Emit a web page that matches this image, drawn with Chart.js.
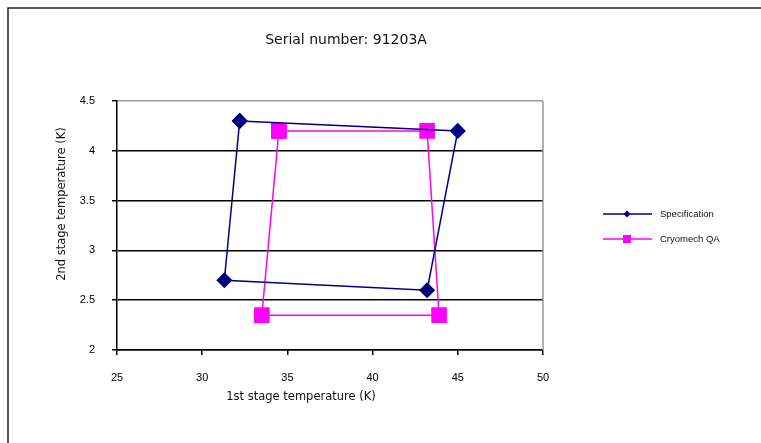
<!DOCTYPE html>
<html>
<head>
<meta charset="utf-8">
<script src="https://cdn.jsdelivr.net/npm/chart.js@4"></script>
<style>
  html, body { margin: 0; padding: 0; background: #fff; }
  #wrap { width: 761px; height: 443px; position: relative; }
</style>
</head>
<body>
<div id="wrap"><canvas id="tempChart"></canvas></div>
<script>
// data (closed loops: last point repeats the first)
const specX = [32.2, 45, 43.2, 31.3, 32.2];
const specY = [4.3, 4.2, 2.6, 2.7, 4.3];
const qaX = [34.5, 43.2, 43.9, 33.5, 34.5];
const qaY = [4.2, 4.2, 2.35, 2.35, 4.2];

const seriesNames = ["Specification", "Cryomech QA"];
const xTicks = [25, 30, 35, 40, 45, 50];
const yTicks = [2, 2.5, 3, 3.5, 4, 4.5];

const chartTitle = "Serial number: 91203A";
const xTitle = "1st stage temperature (K)";
const yTitle = "2nd stage temperature (K)";

const NAVY = "#000080";
const MAGENTA = "#ff00ff";

const toPoints = (xs, ys) => xs.map((x, i) => ({ x, y: ys[i] }));

/* ---------- text, legend and frame drawn on top ---------- */
const decor = {
  id: "decor",
  beforeDraw(chart) {
    const c = chart.ctx;
    c.save();
    c.fillStyle = "#fff";
    c.fillRect(0, 0, chart.width, chart.height);
    c.restore();
  },
  afterDraw(chart) {
    const c = chart.ctx;
    const a = chart.chartArea;
    c.save();

    // outer frame (only left and top edges are visible)
    c.strokeStyle = "#222";
    c.lineWidth = 1.5;
    c.strokeRect(8, 8, 900, 600);

    // plot area right edge
    c.strokeStyle = "#999";
    c.lineWidth = 1.5;
    c.beginPath();
    c.moveTo(a.right, a.top);
    c.lineTo(a.right, a.bottom);
    c.stroke();

    c.fillStyle = "#111";
    c.textBaseline = "middle";

    // title
    c.font = "14px 'DejaVu Sans'";
    c.textAlign = "center";
    c.fillText(chartTitle, 346, 40);

    // axis titles
    c.font = "11.5px 'DejaVu Sans'";
    c.fillText(xTitle, 301, 397);
    c.save();
    c.translate(62, 204);
    c.rotate(-Math.PI / 2);
    c.fillText(yTitle, 0, 0);
    c.restore();

    // legend
    c.font = "9.5px 'Liberation Sans'";
    c.textAlign = "left";
    chart.data.datasets.forEach((ds, i) => {
      const y = 214 + i * 25;
      c.strokeStyle = ds.borderColor;
      c.lineWidth = 1.5;
      c.beginPath();
      c.moveTo(603, y);
      c.lineTo(652, y);
      c.stroke();
      c.fillStyle = ds.backgroundColor;
      if (ds.pointStyle === "rectRot") {
        c.beginPath();
        c.moveTo(627 - 3.5, y);
        c.lineTo(627, y - 3.5);
        c.lineTo(627 + 3.5, y);
        c.lineTo(627, y + 3.5);
        c.closePath();
        c.fill();
      } else {
        c.fillRect(627 - 4, y - 4, 8, 8);
      }
      c.fillStyle = "#111";
      c.fillText(ds.label, 660, y);
    });

    c.restore();
  }
};

const ctx = document.getElementById("tempChart").getContext("2d");

const chart = new Chart(ctx, {
  type: "scatter",
  data: {
    datasets: [
      {
        label: seriesNames[0],
        data: toPoints(specX, specY),
        showLine: true,
        borderColor: NAVY,
        backgroundColor: NAVY,
        borderWidth: 1.5,
        pointStyle: "rectRot",
        pointRadius: 7,
        pointHoverRadius: 7,
        tension: 0
      },
      {
        label: seriesNames[1],
        data: toPoints(qaX, qaY),
        showLine: true,
        borderColor: MAGENTA,
        backgroundColor: MAGENTA,
        borderWidth: 1.5,
        pointStyle: "rect",
        pointRadius: 10,
        pointHoverRadius: 10,
        tension: 0
      }
    ]
  },
  options: {
    responsive: true,
    maintainAspectRatio: false,
    animation: false,
    layout: { padding: { left: 0, right: 218, top: 101, bottom: 0 } },
    plugins: {
      legend: { display: false },
      title: { display: false },
      tooltip: { enabled: false }
    },
    scales: {
      x: {
        type: "linear",
        min: xTicks[0],
        max: xTicks[xTicks.length - 1],
        afterFit: s => { s.height = 93; },
        afterBuildTicks: s => { s.ticks = xTicks.map(v => ({ value: v })); },
        grid: { drawOnChartArea: false, tickLength: 5, color: "#000", lineWidth: 1.5 },
        border: { color: "#000", width: 1.5 },
        ticks: {
          color: "#000", padding: 16,
          font: { family: "'Liberation Sans'", size: 11 },
          callback: v => String(v)
        }
      },
      y: {
        type: "linear",
        min: yTicks[0],
        max: yTicks[yTicks.length - 1],
        afterFit: s => { s.width = 117; },
        afterBuildTicks: s => { s.ticks = yTicks.map(v => ({ value: v })); },
        grid: {
          color: c => (c.tick && c.tick.value === 4.5 ? "#999" : "#000"),
          tickColor: "#000",
          tickLength: 5,
          lineWidth: 1.5
        },
        border: { color: "#000", width: 1.5 },
        ticks: {
          color: "#000", padding: 17,
          font: { family: "'Liberation Sans'", size: 11 },
          callback: v => String(v)
        }
      }
    }
  },
  plugins: [decor]
});
</script>
</body>
</html>
